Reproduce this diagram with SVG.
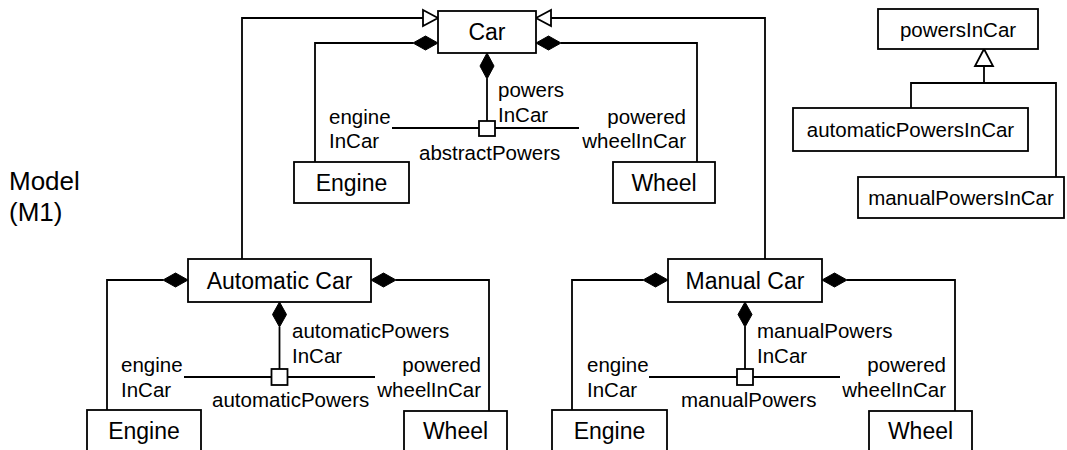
<svg xmlns="http://www.w3.org/2000/svg" width="1067" height="450" viewBox="0 0 1067 450">
  <style>
    .box { fill: #fff; stroke: #000; stroke-width: 1.8; }
    .line { fill: none; stroke: #000; stroke-width: 1.8; }
    .name { font-family: "Liberation Sans", Arial, sans-serif; font-size: 23px; fill: #000; text-anchor: middle; }
    .lbl { font-family: "Liberation Sans", Arial, sans-serif; font-size: 20.5px; fill: #000; }
    .end { text-anchor: end; }
    .cls { font-family: "Liberation Sans", Arial, sans-serif; font-size: 20.5px; fill: #000; text-anchor: middle; }
    .level { font-family: "Liberation Sans", Arial, sans-serif; font-size: 26px; fill: #000; }
    .gen { fill: #fff; stroke: #000; stroke-width: 1.8; }
    .comp { fill: #000; stroke: #000; stroke-width: 1; }
    .port { fill: #fff; stroke: #000; stroke-width: 1.8; }
  </style>

  <!-- level caption -->
  <text class="level" x="9" y="190">Model</text>
  <text class="level" x="9" y="221">(M1)</text>

  <!-- connectors -->
  <g id="connectors">
    <!-- generalisation: Automatic Car -> Car -->
    <polyline class="line" points="242,259 242,18 423,18"/>
    <polygon class="gen" points="438,18 423,10 423,26"/>
    <!-- generalisation: Manual Car -> Car -->
    <polyline class="line" points="765,259 765,18 551,18"/>
    <polygon class="gen" points="536,18 551,10 551,26"/>

    <!-- Car composition: engineInCar -->
    <polyline class="line" points="315,162 315,43 413,43"/>
    <polygon class="comp" points="438,43 425.5,36 413,43 425.5,50"/>
    <!-- Car composition: poweredwheelInCar -->
    <polyline class="line" points="697,162 697,43 561,43"/>
    <polygon class="comp" points="536,43 548.5,36 561,43 548.5,50"/>
    <!-- Car composition: powersInCar -->
    <polygon class="comp" points="487,53 480,66 487,79 494,66"/>
    <line class="line" x1="487" y1="79" x2="487" y2="121"/>
    <line class="line" x1="392" y1="128" x2="579" y2="128"/>
    <rect class="port" x="479" y="121" width="16" height="15"/>

    <!-- Automatic Car compositions -->
    <polyline class="line" points="107,410 107,280 163,280"/>
    <polygon class="comp" points="188,280 175.5,273 163,280 175.5,287"/>
    <polyline class="line" points="489,411 489,280 396,280"/>
    <polygon class="comp" points="371,280 383.5,273 396,280 383.5,287"/>
    <polygon class="comp" points="279.5,302 272.5,314.5 279.5,327 286.5,314.5"/>
    <line class="line" x1="279.5" y1="327" x2="279.5" y2="369"/>
    <line class="line" x1="184" y1="377" x2="375" y2="377"/>
    <rect class="port" x="271.5" y="369" width="16" height="16"/>

    <!-- Manual Car compositions -->
    <polyline class="line" points="572,410 572,280 643,280"/>
    <polygon class="comp" points="668,280 655.5,273 643,280 655.5,287"/>
    <polyline class="line" points="955,411 955,280 847,280"/>
    <polygon class="comp" points="822,280 834.5,273 847,280 834.5,287"/>
    <polygon class="comp" points="745,302 738,314.5 745,327 752,314.5"/>
    <line class="line" x1="745" y1="327" x2="745" y2="369"/>
    <line class="line" x1="649" y1="377" x2="840" y2="377"/>
    <rect class="port" x="737" y="369" width="16" height="16"/>

    <!-- association class hierarchy -->
    <polyline class="line" points="911,108 911,83 1056,83 1056,177"/>
    <line class="line" x1="984" y1="83" x2="984" y2="66"/>
    <polygon class="gen" points="984,49 975,66 993,66"/>
  </g>

  <!-- association end labels -->
  <g id="labels">
    <text class="lbl" x="329" y="124">engine</text>
    <text class="lbl" x="329" y="148">InCar</text>
    <text class="lbl" x="498" y="97">powers</text>
    <text class="lbl" x="498" y="122">InCar</text>
    <text class="lbl end" x="686" y="124">powered</text>
    <text class="lbl end" x="686" y="148">wheelInCar</text>
    <text class="lbl" x="419" y="160">abstractPowers</text>

    <text class="lbl" x="121" y="372">engine</text>
    <text class="lbl" x="121" y="397">InCar</text>
    <text class="lbl" x="292" y="338">automaticPowers</text>
    <text class="lbl" x="292" y="363">InCar</text>
    <text class="lbl end" x="481" y="372">powered</text>
    <text class="lbl end" x="481" y="397">wheelInCar</text>
    <text class="lbl" x="212" y="407">automaticPowers</text>

    <text class="lbl" x="587" y="372">engine</text>
    <text class="lbl" x="587" y="397">InCar</text>
    <text class="lbl" x="757" y="338">manualPowers</text>
    <text class="lbl" x="757" y="363">InCar</text>
    <text class="lbl end" x="946" y="372">powered</text>
    <text class="lbl end" x="946" y="397">wheelInCar</text>
    <text class="lbl" x="681" y="407">manualPowers</text>
  </g>

  <!-- classes -->
  <g id="car">
    <rect class="box" x="438" y="11" width="98" height="42"/>
    <text class="name" x="487" y="40">Car</text>
  </g>
  <g id="engine">
    <rect class="box" x="294" y="162" width="115" height="41"/>
    <text class="name" x="351.5" y="191">Engine</text>
  </g>
  <g id="wheel">
    <rect class="box" x="613" y="162" width="102" height="41"/>
    <text class="name" x="664" y="191">Wheel</text>
  </g>

  <g id="automatic-car">
    <rect class="box" x="188" y="259" width="183" height="43"/>
    <text class="name" x="279.5" y="289">Automatic Car</text>
  </g>
  <g id="automatic-engine">
    <rect class="box" x="87" y="410" width="114" height="50"/>
    <text class="name" x="144" y="439">Engine</text>
  </g>
  <g id="automatic-wheel">
    <rect class="box" x="404" y="411" width="103" height="50"/>
    <text class="name" x="455.5" y="439">Wheel</text>
  </g>

  <g id="manual-car">
    <rect class="box" x="668" y="259" width="154" height="43"/>
    <text class="name" x="745" y="289">Manual Car</text>
  </g>
  <g id="manual-engine">
    <rect class="box" x="552" y="410" width="115" height="50"/>
    <text class="name" x="609.5" y="439">Engine</text>
  </g>
  <g id="manual-wheel">
    <rect class="box" x="869" y="411" width="103" height="50"/>
    <text class="name" x="920.5" y="439">Wheel</text>
  </g>

  <g id="powers-in-car">
    <rect class="box" x="878" y="9" width="160" height="40"/>
    <text class="cls" x="958" y="37">powersInCar</text>
  </g>
  <g id="automatic-powers-in-car">
    <rect class="box" x="793" y="108" width="235" height="43"/>
    <text class="cls" x="910.5" y="137">automaticPowersInCar</text>
  </g>
  <g id="manual-powers-in-car">
    <rect class="box" x="858" y="177" width="206" height="41"/>
    <text class="cls" x="961" y="205">manualPowersInCar</text>
  </g>
</svg>
